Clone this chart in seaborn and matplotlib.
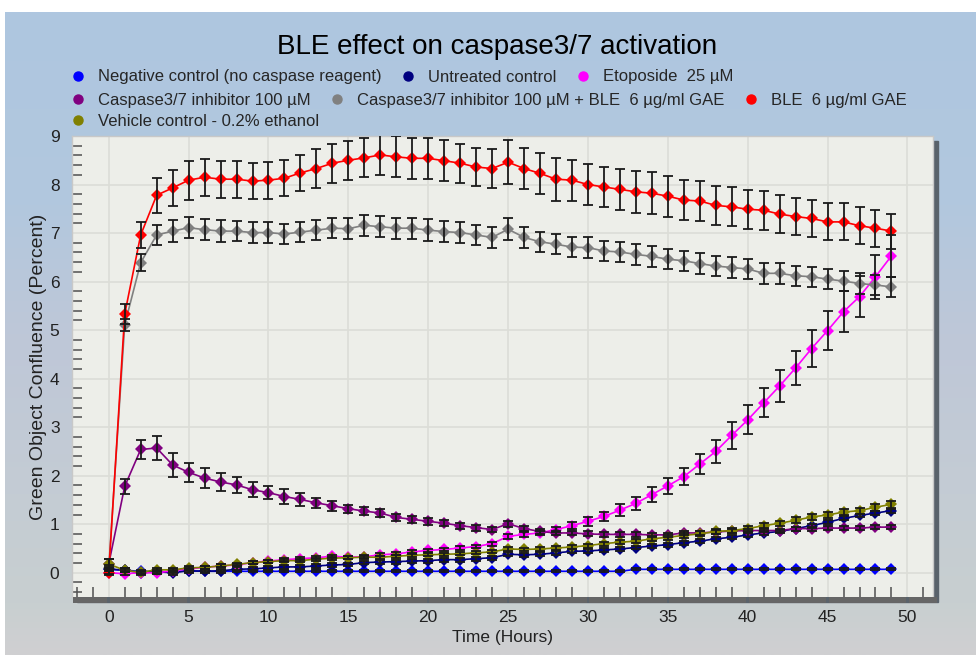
import numpy as np
import pandas as pd
import matplotlib
matplotlib.use("Agg")
import matplotlib.pyplot as plt
import matplotlib.transforms as mtransforms
import seaborn as sns
from matplotlib.lines import Line2D
from matplotlib.patches import Rectangle
from matplotlib.ticker import MultipleLocator

# ---- data (hours 0..49) ----
hours = list(range(50))

series_names = [
    "Negative control (no caspase reagent)",
    "Untreated control",
    "Etoposide  25 µM",
    "Caspase3/7 inhibitor 100 µM",
    "Caspase3/7 inhibitor 100 µM + BLE  6 µg/ml GAE",
    "BLE  6 µg/ml GAE",
    "Vehicle control - 0.2% ethanol",
]
series_colors = ["#0000FF", "#000080", "#FF00FF", "#800080", "#808080", "#FF0000", "#808000"]

negative = [0.07, 0.05, 0.03, 0.02, 0.02, 0.04, 0.03, 0.03, 0.03, 0.03,
            0.03, 0.03, 0.03, 0.03, 0.03, 0.03, 0.03, 0.03, 0.03, 0.03,
            0.03, 0.03, 0.03, 0.03, 0.03, 0.03, 0.03, 0.03, 0.03, 0.03,
            0.03, 0.03, 0.03, 0.07, 0.07, 0.07, 0.07, 0.07, 0.07, 0.07,
            0.07, 0.07, 0.07, 0.07, 0.07, 0.07, 0.07, 0.07, 0.07, 0.07]
negative_err = [0.02] * 50

untreated = [0.08, 0.05, 0.00, 0.02, 0.00, 0.04, 0.03, 0.04, 0.07, 0.08,
             0.10, 0.12, 0.12, 0.14, 0.16, 0.17, 0.21, 0.22, 0.23, 0.24,
             0.25, 0.27, 0.27, 0.29, 0.31, 0.38, 0.37, 0.38, 0.41, 0.44,
             0.45, 0.47, 0.49, 0.52, 0.55, 0.58, 0.62, 0.65, 0.70, 0.73,
             0.78, 0.82, 0.85, 0.91, 0.97, 1.04, 1.12, 1.18, 1.23, 1.28]
untreated_err = [0.04] * 50

etoposide = [0.00, -0.02, 0.00, 0.00, 0.04, 0.08, 0.11, 0.14, 0.16, 0.21,
             0.24, 0.27, 0.29, 0.31, 0.34, 0.32, 0.33, 0.37, 0.39, 0.43,
             0.46, 0.48, 0.51, 0.54, 0.60, 0.75, 0.79, 0.82, 0.89, 0.97,
             1.06, 1.16, 1.29, 1.43, 1.61, 1.79, 1.98, 2.24, 2.50, 2.83,
             3.15, 3.50, 3.85, 4.22, 4.62, 4.99, 5.38, 5.69, 6.10, 6.53]
etoposide_err = [0.03, 0.03, 0.03, 0.03, 0.03, 0.03, 0.03, 0.03, 0.03, 0.03,
                 0.03, 0.03, 0.03, 0.03, 0.03, 0.03, 0.03, 0.03, 0.03, 0.03,
                 0.03, 0.04, 0.04, 0.04, 0.04, 0.05, 0.05, 0.05, 0.05, 0.07,
                 0.09, 0.10, 0.12, 0.13, 0.15, 0.17, 0.18, 0.21, 0.24, 0.27,
                 0.30, 0.30, 0.33, 0.35, 0.39, 0.40, 0.42, 0.42, 0.45, 0.44]

inhibitor = [0.18, 1.78, 2.54, 2.57, 2.22, 2.07, 1.95, 1.87, 1.81, 1.71,
             1.65, 1.57, 1.51, 1.44, 1.38, 1.32, 1.27, 1.23, 1.14, 1.10,
             1.06, 1.02, 0.97, 0.93, 0.89, 1.01, 0.91, 0.85, 0.82, 0.82,
             0.80, 0.79, 0.79, 0.79, 0.78, 0.78, 0.82, 0.82, 0.84, 0.86,
             0.87, 0.87, 0.87, 0.91, 0.91, 0.92, 0.92, 0.92, 0.94, 0.94]
inhibitor_err = [0.10, 0.16, 0.20, 0.25, 0.25, 0.20, 0.20, 0.19, 0.16, 0.15,
                 0.13, 0.15, 0.13, 0.10, 0.10, 0.08, 0.08, 0.08, 0.07, 0.07,
                 0.07, 0.06, 0.06, 0.06, 0.06, 0.06, 0.05, 0.05, 0.05, 0.05,
                 0.05, 0.05, 0.05, 0.05, 0.04, 0.04, 0.04, 0.04, 0.04, 0.04,
                 0.04, 0.04, 0.04, 0.04, 0.04, 0.04, 0.04, 0.04, 0.04, 0.04]

inhibitor_ble = [0.10, 5.11, 6.39, 6.96, 7.04, 7.11, 7.07, 7.04, 7.04, 7.01,
                 7.01, 6.98, 7.02, 7.06, 7.10, 7.09, 7.16, 7.13, 7.10, 7.10,
                 7.06, 7.03, 7.01, 6.96, 6.91, 7.08, 6.91, 6.82, 6.77, 6.71,
                 6.70, 6.63, 6.61, 6.56, 6.52, 6.46, 6.43, 6.37, 6.32, 6.29,
                 6.26, 6.17, 6.17, 6.12, 6.10, 6.05, 6.01, 5.96, 5.93, 5.89]
inhibitor_ble_err = [0.05, 0.12, 0.18, 0.20, 0.22, 0.22, 0.22, 0.22, 0.21, 0.21,
                     0.21, 0.21, 0.21, 0.21, 0.21, 0.21, 0.22, 0.22, 0.22, 0.22,
                     0.22, 0.21, 0.21, 0.21, 0.21, 0.22, 0.21, 0.21, 0.21, 0.21,
                     0.21, 0.21, 0.21, 0.21, 0.21, 0.21, 0.21, 0.21, 0.21, 0.21,
                     0.21, 0.21, 0.21, 0.21, 0.21, 0.21, 0.21, 0.21, 0.21, 0.21]

ble = [0.00, 5.33, 6.96, 7.78, 7.93, 8.09, 8.15, 8.11, 8.11, 8.07,
       8.09, 8.13, 8.24, 8.33, 8.44, 8.50, 8.55, 8.61, 8.57, 8.54,
       8.54, 8.49, 8.44, 8.36, 8.33, 8.46, 8.33, 8.23, 8.11, 8.09,
       8.00, 7.95, 7.90, 7.85, 7.82, 7.76, 7.68, 7.66, 7.57, 7.54,
       7.49, 7.47, 7.39, 7.34, 7.30, 7.23, 7.23, 7.15, 7.10, 7.04]
ble_err = [0.05, 0.20, 0.27, 0.36, 0.37, 0.40, 0.38, 0.38, 0.38, 0.37,
           0.38, 0.37, 0.37, 0.40, 0.40, 0.40, 0.40, 0.42, 0.42, 0.42,
           0.42, 0.42, 0.40, 0.40, 0.40, 0.45, 0.42, 0.42, 0.44, 0.42,
           0.42, 0.42, 0.42, 0.43, 0.43, 0.42, 0.42, 0.42, 0.40, 0.40,
           0.40, 0.40, 0.39, 0.39, 0.39, 0.38, 0.38, 0.38, 0.38, 0.36]

vehicle = [0.18, 0.05, 0.01, 0.06, 0.06, 0.10, 0.11, 0.14, 0.17, 0.21,
           0.23, 0.25, 0.25, 0.28, 0.30, 0.31, 0.32, 0.32, 0.34, 0.36,
           0.37, 0.38, 0.39, 0.41, 0.43, 0.49, 0.48, 0.49, 0.51, 0.53,
           0.56, 0.60, 0.63, 0.65, 0.70, 0.73, 0.77, 0.80, 0.85, 0.87,
           0.91, 0.97, 1.02, 1.08, 1.15, 1.19, 1.25, 1.28, 1.35, 1.41]
vehicle_err = [0.10, 0.04, 0.03, 0.03, 0.03, 0.03, 0.03, 0.03, 0.03, 0.03,
               0.03, 0.03, 0.03, 0.03, 0.03, 0.03, 0.03, 0.03, 0.03, 0.03,
               0.03, 0.03, 0.03, 0.03, 0.03, 0.04, 0.04, 0.04, 0.04, 0.04,
               0.04, 0.04, 0.04, 0.04, 0.05, 0.05, 0.05, 0.05, 0.05, 0.05,
               0.05, 0.05, 0.05, 0.06, 0.06, 0.06, 0.06, 0.06, 0.07, 0.07]

values = [negative, untreated, etoposide, inhibitor, inhibitor_ble, ble, vehicle]
errors = [negative_err, untreated_err, etoposide_err, inhibitor_err,
          inhibitor_ble_err, ble_err, vehicle_err]

x_ticks = list(range(0, 51, 5))
y_ticks = list(range(0, 10))

df = pd.DataFrame({
    "time": np.tile(hours, len(series_names)),
    "value": np.concatenate(values),
    "series": np.repeat(series_names, len(hours)),
})

# ---- figure ----
sns.set_theme(style="white")
plt.rcParams["font.family"] = ["Liberation Sans", "DejaVu Sans"]

W, H = 976, 655
fig = plt.figure(figsize=(W / 100, H / 100), dpi=100)
fig.patch.set_facecolor("white")


def fx(px):
    return px / W


def fy(py):
    return 1 - py / H


# blue -> grey background gradient
stops = [0.0, 0.3, 0.5, 0.75, 0.92, 1.0]
stop_cols = np.array([(174, 198, 224), (178, 200, 222), (190, 199, 216),
                      (196, 204, 212), (200, 207, 208), (208, 208, 210)]) / 255
pos = np.linspace(0, 1, 300)
grad = np.stack([np.interp(pos, stops, stop_cols[:, i]) for i in range(3)], axis=1)[:, None, :]
bg = fig.add_axes([fx(5), 0, 1 - fx(5), fy(12)], zorder=-10)
bg.imshow(grad, aspect="auto", extent=[0, 1, 0, 1])
bg.axis("off")

# drop shadow of the plot area
fig.add_artist(Rectangle((fx(77), fy(602)), fx(938 - 77), (602 - 141) / H,
                         transform=fig.transFigure, color="#59626b", zorder=-5))

ax = fig.add_axes([fx(72), fy(597), fx(933 - 72), (597 - 136) / H], zorder=1)
ax.set_facecolor("#EDEEE9")

sns.lineplot(data=df, x="time", y="value", hue="series", hue_order=series_names,
             palette=series_colors, marker="D", markersize=6.5, markeredgewidth=0,
             linewidth=1.2, errorbar=None, sort=False, legend=False, ax=ax, zorder=3)

for vals, errs in zip(values, errors):
    ax.errorbar(hours, vals, yerr=errs, fmt="none", ecolor="#1a1a1a",
                elinewidth=1.3, capsize=3.5, capthick=1.3, zorder=4)

ax.set_xlim(-2.3, 51.6)
ax.set_ylim(-0.5, 9.0)
ax.set_xticks(x_ticks)
ax.set_yticks(y_ticks)
ax.xaxis.set_minor_locator(MultipleLocator(1))
ax.yaxis.set_minor_locator(MultipleLocator(0.2))
ax.grid(True, which="major", color="#DCDDD7", linewidth=1.2)
ax.set_axisbelow(True)
ax.tick_params(which="major", length=0, labelsize=12.5, labelcolor="#222222", pad=9)
ax.tick_params(which="minor", direction="in", length=7, width=1.1, color="#505050",
               bottom=True, left=True)
for side in ["top", "left", "right"]:
    ax.spines[side].set_color("#c8c8c8")
    ax.spines[side].set_linewidth(1)
ax.spines["bottom"].set_visible(False)

# segmented dark x-axis bar
trans = mtransforms.blended_transform_factory(ax.transData, ax.transAxes)
edges = [-2.3] + x_ticks + [51.9]
for a, b in zip(edges[:-1], edges[1:]):
    ax.plot([a + 0.08, b - 0.08], [-0.007, -0.007], transform=trans, color="#666666",
            linewidth=4.3, solid_capstyle="butt", clip_on=False, zorder=5)

ax.set_xlabel("Time (Hours)", fontsize=12.5, color="#222222", labelpad=4)
ax.set_ylabel("Green Object Confluence (Percent)", fontsize=14, color="#222222", labelpad=2)

fig.text(fx(497), fy(47), "BLE effect on caspase3/7 activation", ha="center",
         va="center", fontsize=20, color="black")

# legend, flowed in three rows
rows = [([0, 1, 2], 77), ([3, 4, 5], 100), ([6], 121)]
for idxs, py in rows:
    handles = [Line2D([], [], marker="o", linestyle="none", color=series_colors[i],
                      markersize=6.5) for i in idxs]
    fig.legend(handles=handles, labels=[series_names[i] for i in idxs],
               loc="center left", bbox_to_anchor=(fx(70), fy(py)), ncol=len(idxs),
               frameon=False, fontsize=12, handletextpad=0.68, columnspacing=1.1,
               handlelength=1.0, borderpad=0, borderaxespad=0)

fig.savefig("out.png", dpi=100)
